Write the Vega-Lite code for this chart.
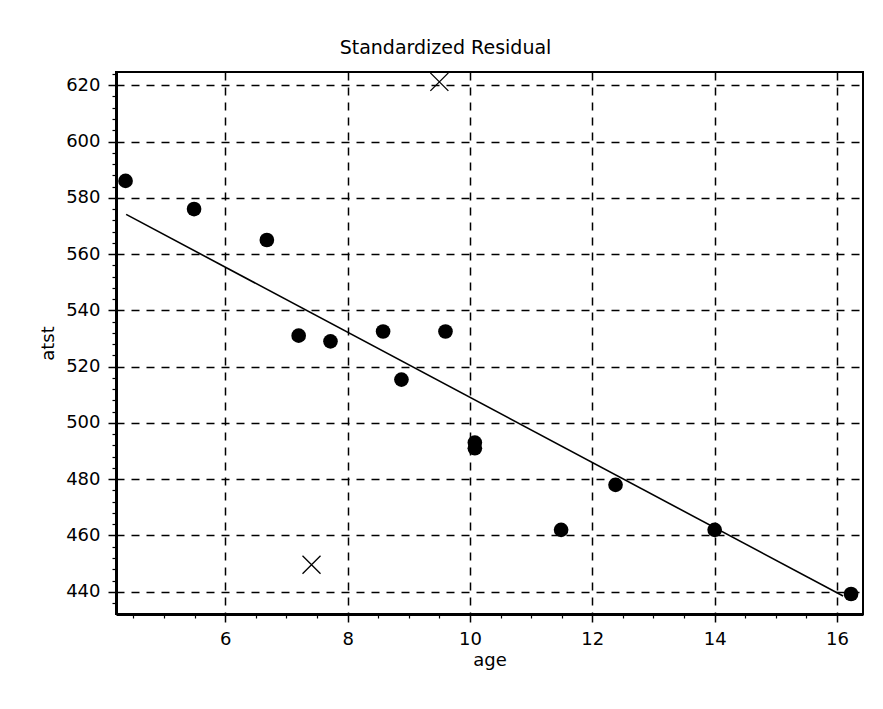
{
  "$schema": "https://vega.github.io/schema/vega-lite/v6.json",
  "width": 747,
  "height": 542,
  "autosize": "none",
  "padding": {"left": 116, "top": 72, "right": 20, "bottom": 95},
  "background": "white",
  "title": {
    "text": "Standardized Residual",
    "font": "DejaVu Sans",
    "fontSize": 19,
    "fontWeight": "normal",
    "color": "black",
    "anchor": "middle",
    "frame": "group",
    "dx": -44,
    "offset": 12
  },
  "config": {
    "view": {"stroke": "black", "strokeWidth": 2},
    "axis": {
      "domainColor": "black",
      "domainWidth": 3,
      "tickColor": "black",
      "tickWidth": 1.5,
      "tickSize": 8,
      "labelFont": "DejaVu Sans",
      "labelFontSize": 18,
      "labelColor": "black",
      "labelPadding": 8,
      "labelFlush": false,
      "titleFont": "DejaVu Sans",
      "titleFontSize": 18,
      "titleFontWeight": "normal",
      "titleColor": "black",
      "gridColor": "black",
      "gridDash": [8, 7],
      "gridWidth": 1.5,
      "gridOpacity": 1
    }
  },
  "datasets": {
    "pts": [
      {"age": 4.37, "atst": 586},
      {"age": 5.49, "atst": 576},
      {"age": 6.68, "atst": 565},
      {"age": 7.2, "atst": 531},
      {"age": 7.72, "atst": 529},
      {"age": 8.58, "atst": 532.5},
      {"age": 9.6, "atst": 532.5},
      {"age": 8.88, "atst": 515.4},
      {"age": 10.08, "atst": 493},
      {"age": 10.08, "atst": 491},
      {"age": 11.49, "atst": 462},
      {"age": 12.38, "atst": 478},
      {"age": 14.0, "atst": 462},
      {"age": 16.23, "atst": 439.2}
    ],
    "crosses": [
      {"age": 9.5, "atst": 621.2},
      {"age": 7.41, "atst": 449.6}
    ],
    "fit": [
      {"age": 4.38, "atst": 574.1},
      {"age": 16.1, "atst": 438.5}
    ]
  },
  "resolve": {"axis": {"x": "independent", "y": "independent"}},
  "layer": [
    {
      "data": {"name": "fit"},
      "mark": {"type": "line", "color": "black", "strokeWidth": 1.6},
      "encoding": {
        "x": {
          "field": "age", "type": "quantitative",
          "scale": {"domain": [4.214, 16.425], "nice": false, "zero": false},
          "axis": {"orient": "bottom", "values": [6, 8, 10, 12, 14, 16], "format": "d", "title": "age", "titlePadding": 3}
        },
        "y": {
          "field": "atst", "type": "quantitative",
          "scale": {"domain": [432.1, 624.7], "nice": false, "zero": false},
          "axis": {"orient": "left", "values": [440, 460, 480, 500, 520, 540, 560, 580, 600, 620], "format": "d", "title": "atst", "titlePadding": 8}
        }
      }
    },
    {
      "data": {"name": "pts"},
      "mark": {"type": "point", "shape": "circle", "filled": true, "size": 215, "color": "black", "opacity": 1},
      "encoding": {
        "x": {"field": "age", "type": "quantitative", "axis": null},
        "y": {"field": "atst", "type": "quantitative", "axis": null}
      }
    },
    {
      "data": {"name": "crosses"},
      "mark": {"type": "point", "shape": "M-1,-1L1,1M-1,1L1,-1", "filled": false, "size": 324, "color": "black", "strokeWidth": 1.3, "opacity": 1},
      "encoding": {
        "x": {
          "field": "age", "type": "quantitative",
          "axis": {"orient": "bottom", "values": [4.5, 5, 5.5, 6.5, 7, 7.5, 8.5, 9, 9.5, 10.5, 11, 11.5, 12.5, 13, 13.5, 14.5, 15, 15.5, 16.5], "labels": false, "grid": false, "domain": false, "title": null, "tickSize": 4, "tickWidth": 1.2}
        },
        "y": {
          "field": "atst", "type": "quantitative",
          "axis": {"orient": "left", "values": [436, 444, 448, 452, 456, 464, 468, 472, 476, 484, 488, 492, 496, 504, 508, 512, 516, 524, 528, 532, 536, 544, 548, 552, 556, 564, 568, 572, 576, 584, 588, 592, 596, 604, 608, 612, 616, 624], "labels": false, "grid": false, "domain": false, "title": null, "tickSize": 4, "tickWidth": 1.2}
        }
      }
    }
  ]
}
